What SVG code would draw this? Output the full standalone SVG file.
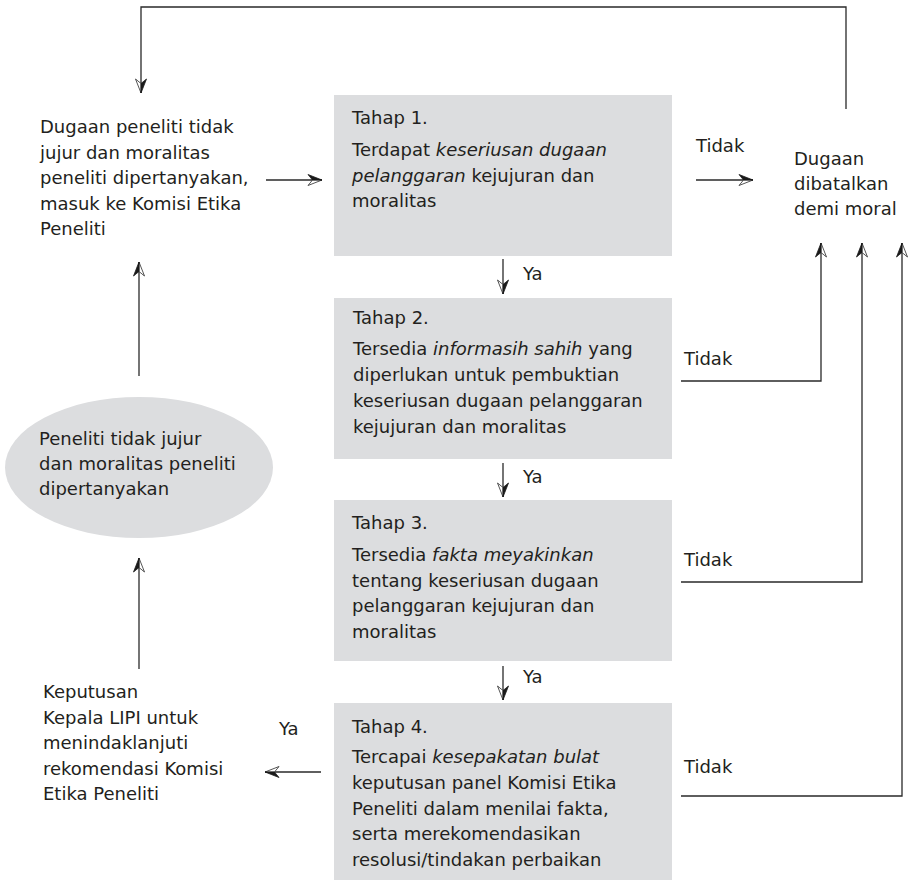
<svg xmlns="http://www.w3.org/2000/svg" width="911" height="880" viewBox="0 0 911 880">
<style>
.t{font-family:"DejaVu Sans","Liberation Sans",sans-serif;font-size:18px;fill:#231f20}
.i{font-style:italic}
.box{fill:#dcdddf}
.ln{fill:none;stroke:#2a2a2a;stroke-width:1.3}
</style>
<defs>
<marker id="ah" markerUnits="userSpaceOnUse" markerWidth="20" markerHeight="16" viewBox="-15 -8 17 16" refX="0" refY="0" orient="auto">
<path d="M0,0 L-14,5.5 L-9.5,0 Z" fill="#fff" stroke="#2a2a2a" stroke-width="0.8"/>
<path d="M0,0 L-14,-5.5 L-9.5,0 Z" fill="#1a1a1a" stroke="#1a1a1a" stroke-width="0.8"/>
</marker>
</defs>
<rect width="911" height="880" fill="#fff"/>

<g id="connectors">
<path class="ln" d="M846,109 V7 H141 V93" marker-end="url(#ah)"/>
<path class="ln" d="M266,180 H322" marker-end="url(#ah)"/>
<path class="ln" d="M696,180 H753" marker-end="url(#ah)"/>
<path class="ln" d="M503,259 V294" marker-end="url(#ah)"/>
<path class="ln" d="M503,463 V497" marker-end="url(#ah)"/>
<path class="ln" d="M503,666 V700" marker-end="url(#ah)"/>
<path class="ln" d="M681,381 H821 V243" marker-end="url(#ah)"/>
<path class="ln" d="M681,582 H862 V243" marker-end="url(#ah)"/>
<path class="ln" d="M681,796 H902 V243" marker-end="url(#ah)"/>
<path class="ln" d="M321,772 H265" marker-end="url(#ah)"/>
<path class="ln" d="M139,376 V262" marker-end="url(#ah)"/>
<path class="ln" d="M139,669 V558" marker-end="url(#ah)"/>
<text class="t" x="696" y="152">Tidak</text>
<text class="t" x="523" y="280">Ya</text>
<text class="t" x="523" y="483">Ya</text>
<text class="t" x="523" y="683">Ya</text>
<text class="t" x="684" y="365">Tidak</text>
<text class="t" x="684" y="566">Tidak</text>
<text class="t" x="684" y="773">Tidak</text>
<text class="t" x="279" y="735">Ya</text>
</g>

<g id="start">
<text class="t" x="40" y="133">Dugaan peneliti tidak</text>
<text class="t" x="40" y="158.5">jujur dan moralitas</text>
<text class="t" x="40" y="184">peneliti dipertanyakan,</text>
<text class="t" x="40" y="209.5">masuk ke Komisi Etika</text>
<text class="t" x="40" y="235">Peneliti</text>
</g>

<g id="tahap1">
<rect class="box" x="334" y="95" width="338" height="161"/>
<text class="t" x="352" y="124">Tahap 1.</text>
<text class="t" x="352" y="156">Terdapat <tspan class="i">keseriusan dugaan</tspan></text>
<text class="t" x="352" y="181.5"><tspan class="i">pelanggaran</tspan> kejujuran dan</text>
<text class="t" x="352" y="207">moralitas</text>
</g>

<g id="batal">
<text class="t" x="794" y="165">Dugaan</text>
<text class="t" x="794" y="190">dibatalkan</text>
<text class="t" x="794" y="215">demi moral</text>
</g>

<g id="tahap2">
<rect class="box" x="334" y="298" width="338" height="161"/>
<text class="t" x="353" y="324">Tahap 2.</text>
<text class="t" x="353" y="355">Tersedia <tspan class="i">informasih sahih</tspan> yang</text>
<text class="t" x="353" y="381">diperlukan untuk pembuktian</text>
<text class="t" x="353" y="407">keseriusan dugaan pelanggaran</text>
<text class="t" x="353" y="432.5">kejujuran dan moralitas</text>
</g>

<g id="ellipse">
<ellipse cx="139" cy="467.5" rx="134" ry="70.5" fill="#dcdddf"/>
<text class="t" x="39" y="445">Peneliti tidak jujur</text>
<text class="t" x="39" y="470">dan moralitas peneliti</text>
<text class="t" x="39" y="495">dipertanyakan</text>
</g>

<g id="tahap3">
<rect class="box" x="334" y="500" width="338" height="161"/>
<text class="t" x="352" y="529">Tahap 3.</text>
<text class="t" x="352" y="561">Tersedia <tspan class="i">fakta meyakinkan</tspan></text>
<text class="t" x="352" y="586.5">tentang keseriusan dugaan</text>
<text class="t" x="352" y="612">pelanggaran kejujuran dan</text>
<text class="t" x="352" y="638">moralitas</text>
</g>

<g id="keputusan">
<text class="t" x="43" y="698">Keputusan</text>
<text class="t" x="43" y="723.5">Kepala LIPI untuk</text>
<text class="t" x="43" y="749">menindaklanjuti</text>
<text class="t" x="43" y="774.5">rekomendasi Komisi</text>
<text class="t" x="43" y="800">Etika Peneliti</text>
</g>

<g id="tahap4">
<rect class="box" x="334" y="703" width="338" height="177"/>
<text class="t" x="352" y="733">Tahap 4.</text>
<text class="t" x="352" y="763">Tercapai <tspan class="i">kesepakatan bulat</tspan></text>
<text class="t" x="352" y="789">keputusan panel Komisi Etika</text>
<text class="t" x="352" y="814.5">Peneliti dalam menilai fakta,</text>
<text class="t" x="352" y="840">serta merekomendasikan</text>
<text class="t" x="352" y="866">resolusi/tindakan perbaikan</text>
</g>
</svg>
